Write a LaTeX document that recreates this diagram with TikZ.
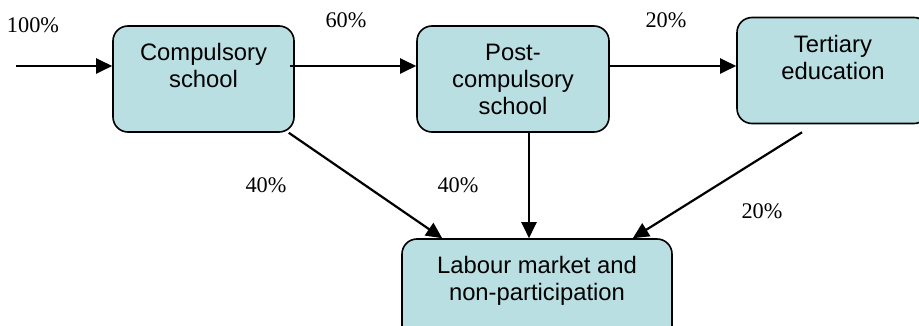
\documentclass[tikz,border=0pt]{standalone}
\usepackage{fontspec}
\setmainfont{Liberation Serif}
\setsansfont{Liberation Sans}
\usetikzlibrary{arrows.meta}
\definecolor{boxfill}{RGB}{185,223,227}
\begin{document}
\begin{tikzpicture}[x=1pt,y=-1pt,
    stage/.style={draw=black, line width=1.6pt, fill=boxfill, rounded corners=15pt,
        minimum height=106pt, align=center, inner sep=0pt,
        font=\sffamily\fontsize{23.8}{27}\selectfont},
    flow/.style={line width=2.2pt, -{Triangle[length=16pt,width=15pt]}},
    share/.style={font=\rmfamily\fontsize{22.3}{26}\selectfont, inner sep=0pt}]
        \useasboundingbox (0,0) rectangle (919,326);
        % Nodes
        \node at (203.5,79) [stage, minimum width=181pt] (compulsory) {Compulsory\\school\\\mbox{}};
        \node at (513,79) [stage, minimum width=192pt] (post) {Post-\\compulsory\\school};
        \node at (833,70.5) [stage, minimum width=192pt] (tertiary) {Tertiary\\education\\\mbox{}};
        \node at (537,292) [stage, minimum width=270pt] (labour) {Labour market and\\non-participation\\\mbox{}};
        \coordinate (entry) at (16,66);
        
        % Shares
        \node at (33,25) [share] (s100) {100\%};
        \node at (346,20) [share] (s60) {60\%};
        \node at (666,20) [share] (s20a) {20\%};
        \node at (266,185) [share] (s40a) {40\%};
        \node at (458,185) [share] (s40b) {40\%};
        \node at (762,211) [share] (s20b) {20\%};
        
        % Arrows
        \draw[flow] (entry) -- (entry -| compulsory.west);
        \draw[flow] ([xshift=-5pt]compulsory.east |- entry) -- (post.west |- entry);
        \draw[flow] (post.east |- entry) -- (tertiary.west |- entry);
        
        \draw[flow] ([xshift=-6pt]compulsory.south east) -- ([xshift=41pt]labour.north west);
        \draw[flow] ([xshift=16pt]post.south) -- ([xshift=16pt]post.south |- labour.north);
        \draw[flow] ([xshift=-31pt,yshift=-8pt]tertiary.south) -- ([xshift=-40pt]labour.north east);
        
    \end{tikzpicture}
\end{document}
